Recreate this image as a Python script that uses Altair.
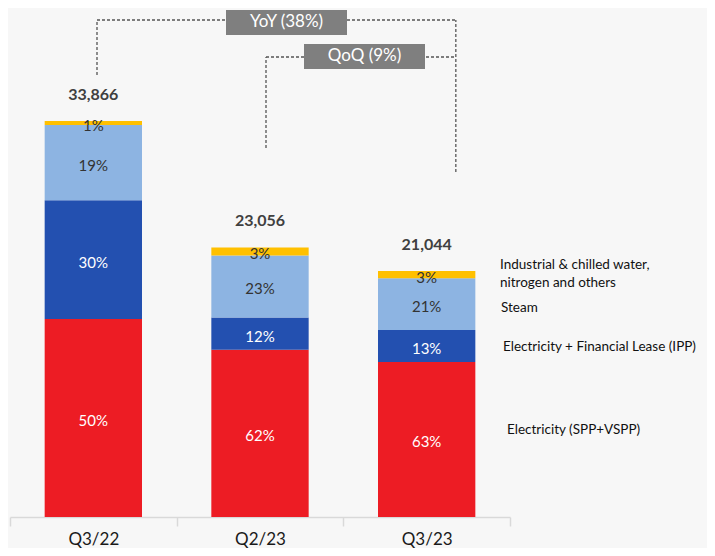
import altair as alt
import pandas as pd

# ---- data ----
categories = ["Q3/22", "Q2/23", "Q3/23"]
totals = [33866, 23056, 21044]
segments = [
    "Electricity (SPP+VSPP)",
    "Electricity + Financial Lease (IPP)",
    "Steam",
    "Industrial & chilled water, nitrogen and others",
]
share_spp = [50, 62, 63]
share_ipp = [30, 12, 13]
share_steam = [19, 23, 21]
share_ind = [1, 3, 3]
seg_colors = ["#ED1C24", "#2350B0", "#8DB4E2", "#FFC000"]
label_colors = ["#FFFFFF", "#FFFFFF", "#333333", "#333333"]
yoy_text = "YoY (38%)"
qoq_text = "QoQ (9%)"

shares = [share_spp, share_ipp, share_steam, share_ind]

rows = []
for ci, cat in enumerate(categories):
    base = 0.0
    for si, seg in enumerate(segments):
        v = totals[ci] * shares[si][ci] / 100.0
        rows.append({
            "cat": cat, "seg": seg, "order": si,
            "y0": base, "y1": base + v, "mid": base + v / 2,
            "label": f"{shares[si][ci]}%",
            "lcolor": label_colors[si],
        })
        base += v
df = pd.DataFrame(rows)
df_tot = pd.DataFrame({"cat": categories, "total": totals,
                       "tlabel": [f"{t:,}" for t in totals]})

YMAX = 42760
H = 500
W = 500

yscale = alt.Scale(domain=[0, YMAX], nice=False, zero=True)
xband = alt.Scale(domain=categories, paddingInner=0, paddingOuter=0)

bars = alt.Chart(df).mark_bar(width=alt.RelativeBandSize(0.584)).encode(
    x=alt.X("cat:N", scale=xband, sort=categories, title=None,
            axis=alt.Axis(labelAngle=0, tickBand="extent", domainColor="#D9D9D9",
                          domainWidth=1.5, tickColor="#D9D9D9", tickWidth=1.5,
                          tickSize=9, labelFontSize=17, labelColor="#1a1a1a",
                          labelFont="Lato", labelPadding=5)),
    y=alt.Y("y0:Q", scale=yscale, axis=None),
    y2="y1:Q",
    color=alt.Color("seg:N", scale=alt.Scale(domain=segments, range=seg_colors), legend=None),
)

pct = alt.Chart(df).mark_text(font="Lato", fontSize=15, baseline="middle", dy=3).encode(
    x=alt.X("cat:N", scale=xband, sort=categories),
    y=alt.Y("mid:Q", scale=yscale),
    text="label:N",
    color=alt.Color("lcolor:N", scale=None),
)

tot = alt.Chart(df_tot).mark_text(font="Lato", fontSize=16, fontWeight="bold",
                                  color="#404040", baseline="middle", dy=-26).encode(
    x=alt.X("cat:N", scale=xband, sort=categories),
    y=alt.Y("total:Q", scale=yscale),
    text="tlabel:N",
)

# ---- annotations (category-index x, value y) ----
xq = alt.Scale(domain=[-0.5, 2.5], nice=False, zero=False)
lines = pd.DataFrame([
    {"x": 0.022, "x2": 0.022, "y": 37800, "y2": 42504},
    {"x": 0.022, "x2": 2.175, "y": 42504, "y2": 42504},
    {"x": 2.175, "x2": 2.175, "y": 29505, "y2": 42504},
    {"x": 1.036, "x2": 1.036, "y": 31557, "y2": 39340},
    {"x": 1.036, "x2": 2.175, "y": 39340, "y2": 39340},
])
rule = alt.Chart(lines).mark_rule(color="#555555", strokeDash=[3, 2], strokeWidth=1.3).encode(
    x=alt.X("x:Q", scale=xq, axis=None), x2="x2:Q",
    y=alt.Y("y:Q", scale=yscale), y2="y2:Q",
)
boxes = pd.DataFrame([
    {"x": 0.796, "x2": 1.522, "y": 41221, "y2": 43360, "t": yoy_text},
    {"x": 1.264, "x2": 1.990, "y": 38314, "y2": 40452, "t": qoq_text},
])
boxes["xm"] = (boxes["x"] + boxes["x2"]) / 2
boxes["ym"] = (boxes["y"] + boxes["y2"]) / 2
box = alt.Chart(boxes).mark_rect(color="#7F7F7F").encode(
    x=alt.X("x:Q", scale=xq, axis=None), x2="x2:Q",
    y=alt.Y("y:Q", scale=yscale), y2="y2:Q",
)
boxt = alt.Chart(boxes).mark_text(font="Lato", fontSize=17, color="#FFFFFF", baseline="middle").encode(
    x=alt.X("xm:Q", scale=xq, axis=None),
    y=alt.Y("ym:Q", scale=yscale),
    text="t:N",
)
side = pd.DataFrame([
    {"x": 2.440, "y": 21551, "t": ["Industrial & chilled water,", "nitrogen and others"]},
    {"x": 2.446, "y": 17874, "t": ["Steam"]},
    {"x": 2.458, "y": 14538, "t": ["Electricity + Financial Lease (IPP)"]},
    {"x": 2.482, "y": 7440, "t": ["Electricity (SPP+VSPP)"]},
])
sidet = alt.Chart(side).mark_text(font="Lato", fontSize=13.5, color="#111111", align="left",
                                  baseline="middle", lineHeight=18).encode(
    x=alt.X("x:Q", scale=xq, axis=None),
    y=alt.Y("y:Q", scale=yscale),
    text="t",
)

main = alt.layer(bars, pct, tot)
ann = alt.layer(rule, box, boxt, sidet)

chart = alt.layer(main, ann).resolve_scale(x="independent").properties(
    width=W, height=H,
    background="#F7F7F7",
    padding={"left": 2, "top": 9, "right": 197, "bottom": 31},
    autosize=alt.AutoSizeParams(type="none"),
).configure_view(stroke=None)

chart.save("out.html", embed_options={"renderer": "svg", "actions": False})
